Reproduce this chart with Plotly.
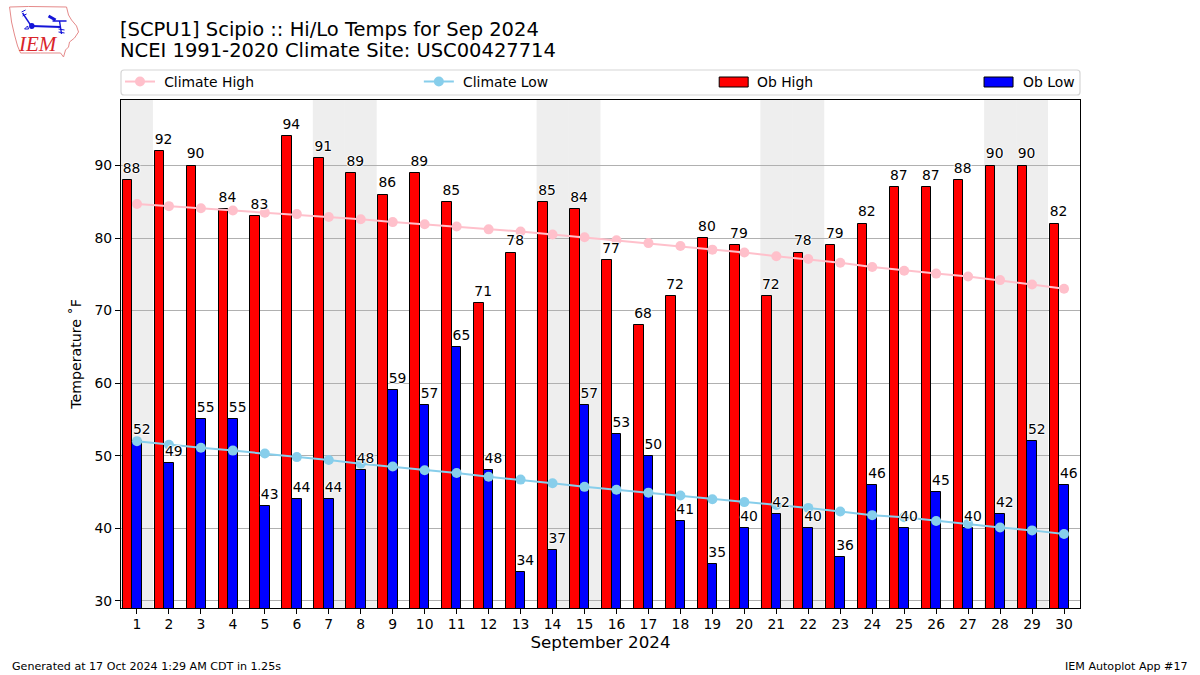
import plotly.graph_objects as go

days = list(range(1, 31))
ob_high = [88, 92, 90, 84, 83, 94, 91, 89, 86, 89, 85, 71, 78, 85, 84, 77, 68, 72, 80, 79, 72, 78, 79, 82, 87, 87, 88, 90, 90, 82]
ob_low = [52, 49, 55, 55, 43, 44, 44, 48, 59, 57, 65, 48, 34, 37, 57, 53, 50, 41, 35, 40, 42, 40, 36, 46, 40, 45, 40, 42, 52, 46]
climate_high = [84.7, 84.4, 84.1, 83.8, 83.5, 83.3, 82.9, 82.6, 82.2, 81.9, 81.6, 81.2, 80.9, 80.5, 80.1,
                79.7, 79.3, 78.9, 78.4, 78.0, 77.5, 77.1, 76.6, 76.0, 75.5, 75.1, 74.7, 74.2, 73.6, 73.0]
climate_low = [52.0, 51.5, 51.1, 50.7, 50.3, 49.8, 49.4, 48.9, 48.5, 48.0, 47.6, 47.1, 46.7, 46.2, 45.7,
               45.3, 44.9, 44.5, 44.0, 43.6, 43.2, 42.8, 42.3, 41.8, 41.5, 41.0, 40.6, 40.1, 39.7, 39.2]
weekend_days = [1, 7, 8, 14, 15, 21, 22, 28, 29]
y_ticks = [30, 40, 50, 60, 70, 80, 90]

FONT = "DejaVu Sans"
W, H = 1200, 675
L, R, T, B = 120.5, 1080.0, 100.0, 608.0
HALO = "1px 0 1px #fff, -1px 0 1px #fff, 0 1px 1px #fff, 0 -1px 1px #fff"
LABEL_LIFT = 0.5
GAP = "\u2009\u200a"


def px(x):
    return (x - L) / (R - L)


def py(y):
    return (B - y) / (B - T)


def path(points, close=False):
    s = "M" + " L".join(f"{px(a):.5f},{py(b):.5f}" for a, b in points)
    return s + (" Z" if close else "")


fig = go.Figure()
fig.add_bar(x=[d - 0.3 for d in days], y=ob_high, width=0.3, name="Ob High", showlegend=False,
            marker=dict(color="#ff0000", line=dict(color="black", width=1)), hoverinfo="y")
fig.add_bar(x=days, y=ob_low, width=0.3, name="Ob Low", showlegend=False,
            marker=dict(color="#0000ff", line=dict(color="black", width=1)), hoverinfo="y")
fig.add_scatter(x=days, y=climate_high, mode="lines+markers", name=GAP + "Climate High", legend="legend",
                line=dict(color="#ffc0cb", width=2), marker=dict(color="#ffc0cb", size=10))
fig.add_scatter(x=days, y=climate_low, mode="lines+markers", name=GAP + "Climate Low", legend="legend2",
                line=dict(color="#87ceeb", width=2), marker=dict(color="#87ceeb", size=10))
fig.add_scatter(x=[d - 0.17 for d in days], y=[v + LABEL_LIFT for v in ob_high], mode="text",
                text=[str(v) for v in ob_high],
                textposition="top center", showlegend=False, hoverinfo="skip",
                textfont=dict(family=FONT, size=13.9, color="black", shadow=HALO))
fig.add_scatter(x=[d + 0.15 for d in days], y=[v + LABEL_LIFT for v in ob_low], mode="text",
                text=[str(v) for v in ob_low],
                textposition="top center", showlegend=False, hoverinfo="skip",
                textfont=dict(family=FONT, size=13.9, color="black", shadow=HALO))

shapes = []
for d in weekend_days:
    shapes.append(dict(type="rect", xref="x", yref="paper", x0=d - 0.5, x1=d + 0.5, y0=0, y1=1,
                       fillcolor="rgba(0,0,0,0.065)", line_width=0, layer="below"))

# legend frame
r = 3
x0, x1, y0, y1 = 120.5, 1080, 70, 95
frame = (f"M{px(x0+r):.5f},{py(y0):.5f} L{px(x1-r):.5f},{py(y0):.5f} Q{px(x1):.5f},{py(y0):.5f} {px(x1):.5f},{py(y0+r):.5f} "
         f"L{px(x1):.5f},{py(y1-r):.5f} Q{px(x1):.5f},{py(y1):.5f} {px(x1-r):.5f},{py(y1):.5f} "
         f"L{px(x0+r):.5f},{py(y1):.5f} Q{px(x0):.5f},{py(y1):.5f} {px(x0):.5f},{py(y1-r):.5f} "
         f"L{px(x0):.5f},{py(y0+r):.5f} Q{px(x0):.5f},{py(y0):.5f} {px(x0+r):.5f},{py(y0):.5f} Z")
shapes.append(dict(type="path", xref="paper", yref="paper", path=frame, fillcolor="white",
                   line=dict(color="#d5d5d5", width=1.2), layer="below"))
# bar legend swatches
for a, b, c in [(719, 748, "#ff0000"), (984, 1013, "#0000ff")]:
    shapes.append(dict(type="rect", xref="paper", yref="paper", x0=px(a), x1=px(b), y0=py(87), y1=py(77),
                       fillcolor=c, line=dict(color="black", width=1), layer="above"))

# logo outline
iowa = [(9, 7), (28, 6.5), (66, 7), (68, 15), (71, 20), (76, 26), (78, 32), (74, 38), (69, 42), (68, 47), (65, 50),
        (63, 57), (60, 53), (40, 53), (20, 53), (17, 46), (14, 35), (11, 22)]
shapes.append(dict(type="path", xref="paper", yref="paper", path=path(iowa, True), fillcolor="white",
                   line=dict(color="#e58a8a", width=1), layer="above"))
for pts, w in [([(31, 26), (60, 27)], 2), ([(22, 13), (30, 25)], 1.4), ([(21, 12), (25, 10)], 1),
               ([(22, 16), (26, 14)], 1), ([(48, 16), (55, 20)], 3), ([(52, 21), (66, 21)], 1.5),
               ([(59, 21), (61, 34)], 1.4), ([(58, 29), (64, 30)], 1), ([(58, 32), (64, 33)], 1),
               ([(24, 29), (27, 26), (28, 29), (24, 29)], 1)]:
    shapes.append(dict(type="path", xref="paper", yref="paper", path=path(pts),
                       line=dict(color="#1414d8", width=w), layer="above"))
shapes.append(dict(type="circle", xref="paper", yref="paper", x0=px(28.5), x1=px(34), y0=py(29), y1=py(23),
                   fillcolor="#1414d8", line_width=0, layer="above"))


def note(x, y, text, size, anchor="left", family=FONT, color="black"):
    return dict(xref="paper", yref="paper", showarrow=False, x=px(x), y=py(y), xanchor=anchor, yanchor="middle",
                text=text, font=dict(family=family, size=size, color=color))


annotations = [
    note(117.5, 29, "[SCPU1] Scipio :: Hi/Lo Temps for Sep 2024", 19.5),
    note(117.5, 51, "NCEI 1991-2020 Climate Site: USC00427714", 19.5),
    note(755, 81.5, "Ob High", 13.9),
    note(1021, 81.5, "Ob Low", 13.9),
    note(9, 666, "Generated at 17 Oct 2024 1:29 AM CDT in 1.25s", 11.1),
    note(1190, 666, "IEM Autoplot App #17", 11.1, anchor="right"),
    note(37, 44, "<i>IEM</i>", 21, anchor="center", family="Liberation Serif", color="#d9252b"),
]

legend_common = dict(bgcolor="rgba(0,0,0,0)", borderwidth=0, font=dict(family=FONT, size=13.9, color="black"),
                     xanchor="left", yanchor="middle", itemwidth=30, tracegroupgap=0)
fig.update_layout(
    width=W, height=H, autosize=False,
    margin=dict(l=L, r=W - R, t=T, b=H - B, pad=0),
    paper_bgcolor="white", plot_bgcolor="white",
    barmode="overlay", bargap=0,
    font=dict(family=FONT, size=13.9, color="black"),
    shapes=shapes, annotations=annotations,
    legend=dict(legend_common, x=px(119.5), y=py(82)),
    legend2=dict(legend_common, x=px(418.5), y=py(82)),
    xaxis=dict(range=[0.5, 30.5], tickmode="array", tickvals=days, ticktext=[str(d) for d in days],
               ticks="outside", ticklen=5, tickwidth=1, tickcolor="black", showgrid=False, zeroline=False,
               showline=True, linecolor="black", linewidth=1.2, mirror=True, ticklabelstandoff=-2,
               title=dict(text="September 2024", font=dict(family=FONT, size=16.7), standoff=4),
               tickangle=0, tickfont=dict(family=FONT, size=13.9)),
    yaxis=dict(range=[29, 99.03], tickmode="array", tickvals=y_ticks, ticktext=[str(v) for v in y_ticks],
               ticks="outside", ticklen=5, tickwidth=1, tickcolor="black", showgrid=True, gridcolor="#b0b0b0",
               gridwidth=1, zeroline=False, showline=True, linecolor="black", linewidth=1.2, mirror=True,
               title=dict(text="Temperature ˚F", font=dict(family=FONT, size=14.2), standoff=9),
               tickfont=dict(family=FONT, size=13.9)),
)
fig.write_html("out.html", config=dict(displayModeBar=False),
               post_script="document.body.style.margin='0';")
